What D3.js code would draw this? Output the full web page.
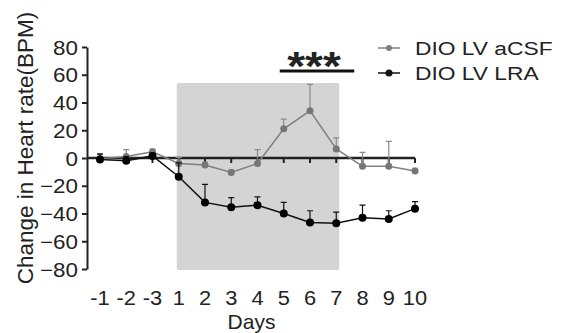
<!DOCTYPE html>
<html>
<head>
<meta charset="utf-8">
<script src="https://cdn.jsdelivr.net/npm/d3@7"></script>
<style>
  body { margin: 0; background: #fff; }
  text { font-family: "Liberation Sans", Arial, sans-serif; fill: #222; }
</style>
</head>
<body>
<div id="chart"></div>
<script>
// days on the x axis (pre-treatment days are -1, -2, -3)
const days = ["-1", "-2", "-3", "1", "2", "3", "4", "5", "6", "7", "8", "9", "10"];
const yTicks = [-80, -60, -40, -20, 0, 20, 40, 60, 80];

const acsf = [-0.5, 1, 4.5, -4, -5, -10.5, -4, 21, 34, 6.5, -6, -6, -9.4];
const acsfErr = [3, 5, 2, 4.5, 2, 2, 10, 7, 19, 8, 10, 18, 2];
const lra = [-1, -2, 1.5, -13.5, -32, -35.5, -34, -40, -46.5, -47, -43, -44, -36.5];
const lraErr = [4, 3, 2, 10, 13, 7, 6, 8, 8.5, 8, 9, 6, 5];

const seriesNames = ["DIO LV aCSF", "DIO LV LRA"];
const treatment = ["1", "7"];   // shaded days
const sigDays = ["5", "7"];     // *** bar

const width = 570, height = 333;

const svg = d3.select("#chart").append("svg")
    .attr("width", width)
    .attr("height", height);

const x = d3.scalePoint().domain(days).range([100, 415]);
const y = d3.scaleLinear().domain([-80, 80]).range([269, 47]);

// shaded treatment period
svg.append("rect")
    .attr("x", x(treatment[0]) - 2)
    .attr("y", y(54))
    .attr("width", x(treatment[1]) - x(treatment[0]) + 5)
    .attr("height", y(-80) - y(54) + 1)
    .attr("rx", 2)
    .attr("fill", "#d4d4d4");

// y axis
const yAxis = svg.append("g")
    .attr("transform", "translate(87,0)")
    .call(d3.axisLeft(y).tickValues(yTicks).tickSize(5).tickSizeOuter(0).tickFormat(d3.format("d")));
yAxis.select(".domain").attr("stroke", "#222").attr("stroke-width", 2);
yAxis.selectAll(".tick line").attr("stroke", "#222").attr("stroke-width", 2);
yAxis.selectAll(".tick text")
    .attr("x", 0)
    .attr("dy", null)
    .attr("y", 7)
    .attr("transform", "translate(-9,0) scale(1.12,1)")
    .style("font-size", "20px")
    .attr("fill", "#222");

// zero line working as x axis, labels at the bottom
const xAxis = svg.append("g").attr("transform", "translate(0," + y(0) + ")");
xAxis.append("line")
    .attr("x1", 87).attr("x2", x(days[days.length - 1]))
    .attr("stroke", "#222").attr("stroke-width", 2.5);
xAxis.selectAll(".xt")
    .data(days)
    .enter()
    .append("line")
    .attr("class", "xt")
    .attr("x1", d => x(d)).attr("x2", d => x(d))
    .attr("y1", 0).attr("y2", 5)
    .attr("stroke", "#222").attr("stroke-width", 2);

svg.selectAll(".xlab")
    .data(days)
    .enter()
    .append("text")
    .attr("class", "xlab")
    .attr("transform", d => "translate(" + x(d) + ",305) scale(1.12,1)")
    .attr("text-anchor", "middle")
    .style("font-size", "19.5px")
    .text(d => d);

svg.append("text")
    .attr("x", x("4") - 6)
    .attr("y", 329)
    .attr("text-anchor", "middle")
    .style("font-size", "21px")
    .text("Days");

svg.append("text")
    .attr("transform", "translate(33,148) rotate(-90)")
    .attr("text-anchor", "middle")
    .style("font-size", "22.5px")
    .text("Change in Heart rate(BPM)");

// series
function drawSeries(values, errs, color, r, lineColor, errColor) {
    const pts = days.map((d, i) => ({day: d, v: values[i], e: errs[i]}));
    const g = svg.append("g");

    g.selectAll(".err")
        .data(pts)
        .enter()
        .append("path")
        .attr("d", d => "M" + x(d.day) + "," + y(d.v) + "V" + y(d.v + d.e)
            + "M" + (x(d.day) - 3) + "," + y(d.v + d.e) + "H" + (x(d.day) + 3))
        .attr("stroke", errColor)
        .attr("stroke-width", 1.2)
        .attr("fill", "none");

    g.append("path")
        .datum(pts)
        .attr("d", d3.line().x(d => x(d.day)).y(d => y(d.v)))
        .attr("stroke", lineColor)
        .attr("stroke-width", 1.5)
        .attr("fill", "none");

    g.selectAll("circle")
        .data(pts)
        .enter()
        .append("circle")
        .attr("cx", d => x(d.day))
        .attr("cy", d => y(d.v))
        .attr("r", r)
        .attr("fill", color);
}

drawSeries(acsf, acsfErr, "#767676", 3.5, "#808080", "#8a8a8a");
drawSeries(lra, lraErr, "#000", 4, "#111", "#111");

// significance bar
svg.append("line")
    .attr("x1", x(sigDays[0]) - 4).attr("x2", x(sigDays[1]) + 18)
    .attr("y1", 71).attr("y2", 71)
    .attr("stroke", "#111").attr("stroke-width", 3);
svg.append("text")
    .attr("transform", "translate(" + ((x(sigDays[0]) + x(sigDays[1])) / 2 + 4) + ",80) scale(1.15,1)")
    .attr("text-anchor", "middle")
    .style("font-size", "40px")
    .style("font-weight", "bold")
    .attr("fill", "#111")
    .text("***");

// legend
const legendColors = ["#808080", "#111"];
const leg = svg.selectAll(".leg")
    .data(seriesNames)
    .enter()
    .append("g")
    .attr("class", "leg")
    .attr("transform", (d, i) => "translate(378," + (48 + i * 25) + ")");
leg.append("line")
    .attr("x1", 0).attr("x2", 22)
    .attr("stroke", (d, i) => legendColors[i]).attr("stroke-width", 1.5);
leg.append("circle")
    .attr("cx", 11).attr("r", (d, i) => i === 0 ? 3 : 3.5)
    .attr("fill", (d, i) => legendColors[i]);
leg.append("text")
    .attr("transform", "translate(37,7) scale(1.2,1)")
    .style("font-size", "19px")
    .text(d => d);
</script>
</body>
</html>
